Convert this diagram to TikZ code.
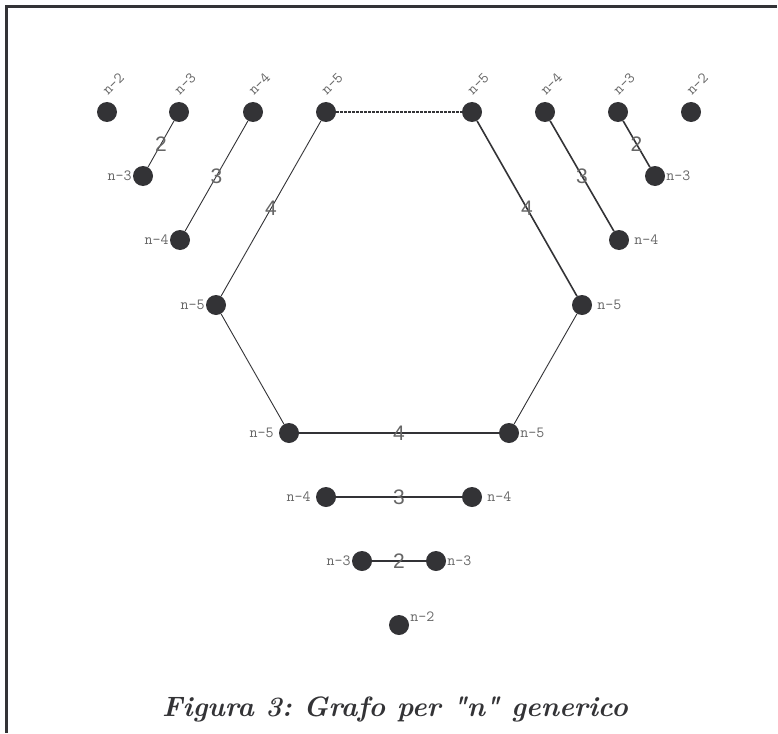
\documentclass[tikz,border=0pt]{standalone}
\usepackage{fontspec}
\newfontfamily\wfont{Liberation Sans}
\definecolor{ink}{HTML}{333336}
\definecolor{txt}{HTML}{666666}
\begin{document}
\begin{tikzpicture}[x=1pt,y=-1pt,
  vertex/.style={circle,fill=ink,inner sep=0pt,minimum size=20pt},
  vlab/.style={font=\ttfamily\fontsize{15.5}{15.5}\selectfont,text=txt,inner sep=1pt},
  toplab/.style={vlab,rotate=45,anchor=south west,inner sep=0pt},
  edge/.style={draw=ink,line width=0.9pt},
  edgeb/.style={draw=ink,line width=1.6pt},
  wlab/.style={font=\wfont\fontsize{21}{21}\selectfont,text=txt,inner sep=0pt}]
\useasboundingbox (0,0) rectangle (778,733);
% open frame: top and left sides only
\draw[ink,line width=3pt] (777,7) -- (6,7) -- (6,733);

% top row
\foreach \n/\x/\t in {a/107/n-2,b/179/n-3,c/253/n-4,d/326/n-5,e/472/n-5,f/545/n-4,g/618/n-3,h/691/n-2}{
  \node[vertex] (\n) at (\x,112) {};
  \node[toplab] (\n l) at (\x+1,96) {\t};
}

% left side
\node[vertex] (l3) at (143,176) {};
\node[vlab,anchor=east] (l3l) at (l3.west) {n-3};
\node[vertex] (l4) at (180,240) {};
\node[vlab,anchor=east] (l4l) at (l4.west) {n-4};
\node[vertex] (l5) at (216,305) {};
\node[vlab,anchor=east] (l5l) at (l5.west) {n-5};

% right side
\node[vertex] (r3) at (655,176) {};
\node[vlab,anchor=west] (r3l) at (r3.east) {n-3};
\node[vertex] (r4) at (619,240) {};
\node[vlab,anchor=west] (r4l) at ([xshift=4pt]r4.east) {n-4};
\node[vertex] (r5) at (582,305) {};
\node[vlab,anchor=west] (r5l) at ([xshift=4pt]r5.east) {n-5};

% bottom of the hexagon
\node[vertex] (bl) at (289,433) {};
\node[vlab,anchor=east] (bll) at ([xshift=-4pt]bl.west) {n-5};
\node[vertex] (br) at (509,433) {};
\node[vlab,anchor=west] (brl) at (br.east) {n-5};

% lower pairs
\node[vertex] (p4l) at (326,497) {};
\node[vlab,anchor=east] (p4ll) at ([xshift=-4pt]p4l.west) {n-4};
\node[vertex] (p4r) at (472,497) {};
\node[vlab,anchor=west] (p4rl) at ([xshift=4pt]p4r.east) {n-4};
\node[vertex] (p3l) at (362,561) {};
\node[vlab,anchor=east] (p3ll) at (p3l.west) {n-3};
\node[vertex] (p3r) at (436,561) {};
\node[vlab,anchor=west] (p3rl) at (p3r.east) {n-3};
\node[vertex] (p2) at (399,625) {};
\node[vlab,anchor=south west] (p2l) at ([yshift=2pt]p2.east) {n-2};

% edges
\draw[edge] (b) -- node[wlab] {2} (l3);
\draw[edge] (c) -- node[wlab] {3} (l4);
\draw[edge] (d) -- node[wlab] {4} (l5);
\draw[edge] (l5) -- (bl);
\draw[edgeb] (bl) -- node[wlab] {4} (br);
\draw[edge] (br) -- (r5);
\draw[edgeb] (r5) -- node[wlab] {4} (e);
\draw[edgeb] (f) -- node[wlab] {3} (r4);
\draw[edgeb] (g) -- node[wlab] {2} (r3);
\draw[edge,line width=1.4pt,dash pattern=on 3pt off 1pt] (d) -- (e);
\draw[edgeb] (p4l) -- node[wlab] {3} (p4r);
\draw[edgeb] (p3l) -- node[wlab] {2} (p3r);

% caption
\node[text=ink,font=\fontsize{28}{28}\selectfont\bfseries\itshape,anchor=base] (cap) at (395,716)
  {\frenchspacing Figura 3: Grafo per \textquotedbl n\textquotedbl{} generico};
\end{tikzpicture}
\end{document}
